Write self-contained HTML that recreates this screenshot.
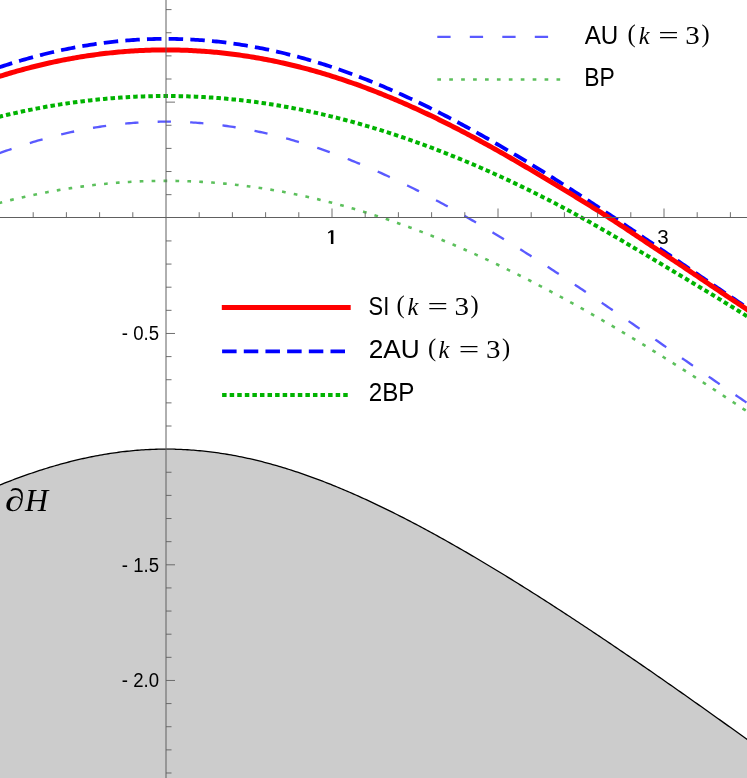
<!DOCTYPE html>
<html><head><meta charset="utf-8"><title>plot</title><style>html,body{margin:0;padding:0;background:#fff;}svg{display:block;will-change:transform;}text{font-family:"Liberation Sans",sans-serif;fill:#000;}.m{font-family:"Liberation Serif",serif;}.mi{font-family:"Liberation Serif",serif;font-style:italic;}</style></head><body>
<svg width="747" height="778" viewBox="0 0 747 778">
<rect width="747" height="778" fill="#fff"/>
<path d="M-49.80 507.04 L-47.72 506.04 L-45.64 505.04 L-43.56 504.05 L-41.48 503.07 L-39.40 502.10 L-37.32 501.13 L-35.24 500.16 L-33.16 499.21 L-31.08 498.26 L-29.00 497.31 L-26.92 496.38 L-24.84 495.45 L-22.76 494.53 L-20.68 493.61 L-18.60 492.70 L-16.52 491.80 L-14.44 490.91 L-12.36 490.02 L-10.28 489.15 L-8.20 488.27 L-6.12 487.41 L-4.04 486.56 L-1.96 485.71 L0.12 484.87 L2.21 484.03 L4.29 483.21 L6.37 482.39 L8.45 481.58 L10.53 480.78 L12.61 479.99 L14.69 479.21 L16.77 478.43 L18.85 477.67 L20.93 476.91 L23.01 476.16 L25.09 475.42 L27.17 474.69 L29.25 473.96 L31.33 473.25 L33.41 472.54 L35.49 471.85 L37.57 471.16 L39.65 470.48 L41.73 469.81 L43.81 469.15 L45.89 468.50 L47.97 467.86 L50.05 467.23 L52.13 466.61 L54.21 466.00 L56.29 465.40 L58.37 464.81 L60.45 464.22 L62.53 463.65 L64.61 463.09 L66.69 462.54 L68.77 462.00 L70.85 461.47 L72.93 460.95 L75.01 460.44 L77.09 459.94 L79.17 459.45 L81.25 458.97 L83.33 458.50 L85.41 458.04 L87.49 457.60 L89.57 457.16 L91.65 456.74 L93.73 456.33 L95.81 455.92 L97.89 455.53 L99.97 455.15 L102.05 454.78 L104.13 454.42 L106.22 454.08 L108.30 453.74 L110.38 453.42 L112.46 453.11 L114.54 452.81 L116.62 452.52 L118.70 452.24 L120.78 451.97 L122.86 451.72 L124.94 451.48 L127.02 451.25 L129.10 451.03 L131.18 450.82 L133.26 450.63 L135.34 450.44 L137.42 450.27 L139.50 450.11 L141.58 449.96 L143.66 449.83 L145.74 449.70 L147.82 449.59 L149.90 449.49 L151.98 449.40 L154.06 449.33 L156.14 449.27 L158.22 449.21 L160.30 449.18 L162.38 449.15 L164.46 449.13 L166.54 449.13 L168.62 449.14 L170.70 449.16 L172.78 449.19 L174.86 449.24 L176.94 449.30 L179.02 449.37 L181.10 449.45 L183.18 449.54 L185.26 449.65 L187.34 449.77 L189.42 449.90 L191.50 450.04 L193.58 450.19 L195.66 450.36 L197.74 450.54 L199.82 450.73 L201.90 450.93 L203.98 451.14 L206.06 451.37 L208.14 451.60 L210.23 451.85 L212.31 452.11 L214.39 452.38 L216.47 452.67 L218.55 452.96 L220.63 453.27 L222.71 453.59 L224.79 453.92 L226.87 454.26 L228.95 454.61 L231.03 454.97 L233.11 455.35 L235.19 455.73 L237.27 456.13 L239.35 456.54 L241.43 456.96 L243.51 457.39 L245.59 457.83 L247.67 458.28 L249.75 458.74 L251.83 459.22 L253.91 459.70 L255.99 460.20 L258.07 460.70 L260.15 461.22 L262.23 461.74 L264.31 462.28 L266.39 462.83 L268.47 463.38 L270.55 463.95 L272.63 464.53 L274.71 465.11 L276.79 465.71 L278.87 466.32 L280.95 466.93 L283.03 467.56 L285.11 468.20 L287.19 468.84 L289.27 469.50 L291.35 470.16 L293.43 470.83 L295.51 471.52 L297.59 472.21 L299.67 472.91 L301.75 473.62 L303.83 474.34 L305.91 475.07 L307.99 475.80 L310.07 476.55 L312.15 477.30 L314.24 478.06 L316.32 478.84 L318.40 479.62 L320.48 480.40 L322.56 481.20 L324.64 482.00 L326.72 482.82 L328.80 483.64 L330.88 484.47 L332.96 485.30 L335.04 486.15 L337.12 487.00 L339.20 487.86 L341.28 488.73 L343.36 489.60 L345.44 490.48 L347.52 491.37 L349.60 492.27 L351.68 493.17 L353.76 494.09 L355.84 495.01 L357.92 495.93 L360.00 496.86 L362.08 497.80 L364.16 498.75 L366.24 499.70 L368.32 500.66 L370.40 501.63 L372.48 502.60 L374.56 503.58 L376.64 504.57 L378.72 505.56 L380.80 506.56 L382.88 507.56 L384.96 508.57 L387.04 509.59 L389.12 510.61 L391.20 511.64 L393.28 512.68 L395.36 513.72 L397.44 514.77 L399.52 515.82 L401.60 516.88 L403.68 517.94 L405.76 519.01 L407.84 520.08 L409.92 521.16 L412.00 522.25 L414.08 523.34 L416.16 524.44 L418.25 525.54 L420.33 526.64 L422.41 527.75 L424.49 528.87 L426.57 529.99 L428.65 531.12 L430.73 532.25 L432.81 533.39 L434.89 534.53 L436.97 535.67 L439.05 536.82 L441.13 537.98 L443.21 539.14 L445.29 540.30 L447.37 541.47 L449.45 542.64 L451.53 543.82 L453.61 545.00 L455.69 546.19 L457.77 547.38 L459.85 548.57 L461.93 549.77 L464.01 550.97 L466.09 552.18 L468.17 553.39 L470.25 554.60 L472.33 555.82 L474.41 557.04 L476.49 558.27 L478.57 559.50 L480.65 560.73 L482.73 561.97 L484.81 563.21 L486.89 564.46 L488.97 565.70 L491.05 566.96 L493.13 568.21 L495.21 569.47 L497.29 570.73 L499.37 572.00 L501.45 573.27 L503.53 574.54 L505.61 575.82 L507.69 577.09 L509.77 578.38 L511.85 579.66 L513.93 580.95 L516.01 582.24 L518.09 583.54 L520.17 584.84 L522.26 586.14 L524.34 587.44 L526.42 588.75 L528.50 590.06 L530.58 591.37 L532.66 592.68 L534.74 594.00 L536.82 595.32 L538.90 596.65 L540.98 597.98 L543.06 599.30 L545.14 600.64 L547.22 601.97 L549.30 603.31 L551.38 604.65 L553.46 605.99 L555.54 607.34 L557.62 608.69 L559.70 610.04 L561.78 611.39 L563.86 612.74 L565.94 614.10 L568.02 615.46 L570.10 616.82 L572.18 618.19 L574.26 619.56 L576.34 620.93 L578.42 622.30 L580.50 623.67 L582.58 625.05 L584.66 626.43 L586.74 627.81 L588.82 629.19 L590.90 630.58 L592.98 631.96 L595.06 633.35 L597.14 634.74 L599.22 636.14 L601.30 637.53 L603.38 638.93 L605.46 640.33 L607.54 641.73 L609.62 643.13 L611.70 644.54 L613.78 645.95 L615.86 647.36 L617.94 648.77 L620.02 650.18 L622.10 651.60 L624.18 653.01 L626.27 654.43 L628.35 655.85 L630.43 657.27 L632.51 658.70 L634.59 660.12 L636.67 661.55 L638.75 662.98 L640.83 664.41 L642.91 665.84 L644.99 667.28 L647.07 668.71 L649.15 670.15 L651.23 671.59 L653.31 673.03 L655.39 674.47 L657.47 675.92 L659.55 677.36 L661.63 678.81 L663.71 680.26 L665.79 681.71 L667.87 683.16 L669.95 684.61 L672.03 686.07 L674.11 687.52 L676.19 688.98 L678.27 690.44 L680.35 691.90 L682.43 693.36 L684.51 694.82 L686.59 696.29 L688.67 697.75 L690.75 699.22 L692.83 700.69 L694.91 702.16 L696.99 703.63 L699.07 705.10 L701.15 706.58 L703.23 708.05 L705.31 709.53 L707.39 711.00 L709.47 712.48 L711.55 713.96 L713.63 715.44 L715.71 716.93 L717.79 718.41 L719.87 719.90 L721.95 721.38 L724.03 722.87 L726.11 724.36 L728.19 725.85 L730.28 727.34 L732.36 728.83 L734.44 730.32 L736.52 731.82 L738.60 733.31 L740.68 734.81 L742.76 736.30 L744.84 737.80 L746.92 739.30 L749.00 740.80 L751.08 742.30 L753.16 743.81 L755.24 745.31 L757.32 746.82 L759.40 748.32 L761.48 749.83 L763.56 751.34 L765.64 752.84 L767.72 754.35 L769.80 755.86 L771.88 757.38 L773.96 758.89 L776.04 760.40 L778.12 761.92 L780.20 763.43 L780.20 900 L-49.80 900 Z" fill="#cccccc" stroke="none"/>
<path d="M-49.80 507.04 L-47.72 506.04 L-45.64 505.04 L-43.56 504.05 L-41.48 503.07 L-39.40 502.10 L-37.32 501.13 L-35.24 500.16 L-33.16 499.21 L-31.08 498.26 L-29.00 497.31 L-26.92 496.38 L-24.84 495.45 L-22.76 494.53 L-20.68 493.61 L-18.60 492.70 L-16.52 491.80 L-14.44 490.91 L-12.36 490.02 L-10.28 489.15 L-8.20 488.27 L-6.12 487.41 L-4.04 486.56 L-1.96 485.71 L0.12 484.87 L2.21 484.03 L4.29 483.21 L6.37 482.39 L8.45 481.58 L10.53 480.78 L12.61 479.99 L14.69 479.21 L16.77 478.43 L18.85 477.67 L20.93 476.91 L23.01 476.16 L25.09 475.42 L27.17 474.69 L29.25 473.96 L31.33 473.25 L33.41 472.54 L35.49 471.85 L37.57 471.16 L39.65 470.48 L41.73 469.81 L43.81 469.15 L45.89 468.50 L47.97 467.86 L50.05 467.23 L52.13 466.61 L54.21 466.00 L56.29 465.40 L58.37 464.81 L60.45 464.22 L62.53 463.65 L64.61 463.09 L66.69 462.54 L68.77 462.00 L70.85 461.47 L72.93 460.95 L75.01 460.44 L77.09 459.94 L79.17 459.45 L81.25 458.97 L83.33 458.50 L85.41 458.04 L87.49 457.60 L89.57 457.16 L91.65 456.74 L93.73 456.33 L95.81 455.92 L97.89 455.53 L99.97 455.15 L102.05 454.78 L104.13 454.42 L106.22 454.08 L108.30 453.74 L110.38 453.42 L112.46 453.11 L114.54 452.81 L116.62 452.52 L118.70 452.24 L120.78 451.97 L122.86 451.72 L124.94 451.48 L127.02 451.25 L129.10 451.03 L131.18 450.82 L133.26 450.63 L135.34 450.44 L137.42 450.27 L139.50 450.11 L141.58 449.96 L143.66 449.83 L145.74 449.70 L147.82 449.59 L149.90 449.49 L151.98 449.40 L154.06 449.33 L156.14 449.27 L158.22 449.21 L160.30 449.18 L162.38 449.15 L164.46 449.13 L166.54 449.13 L168.62 449.14 L170.70 449.16 L172.78 449.19 L174.86 449.24 L176.94 449.30 L179.02 449.37 L181.10 449.45 L183.18 449.54 L185.26 449.65 L187.34 449.77 L189.42 449.90 L191.50 450.04 L193.58 450.19 L195.66 450.36 L197.74 450.54 L199.82 450.73 L201.90 450.93 L203.98 451.14 L206.06 451.37 L208.14 451.60 L210.23 451.85 L212.31 452.11 L214.39 452.38 L216.47 452.67 L218.55 452.96 L220.63 453.27 L222.71 453.59 L224.79 453.92 L226.87 454.26 L228.95 454.61 L231.03 454.97 L233.11 455.35 L235.19 455.73 L237.27 456.13 L239.35 456.54 L241.43 456.96 L243.51 457.39 L245.59 457.83 L247.67 458.28 L249.75 458.74 L251.83 459.22 L253.91 459.70 L255.99 460.20 L258.07 460.70 L260.15 461.22 L262.23 461.74 L264.31 462.28 L266.39 462.83 L268.47 463.38 L270.55 463.95 L272.63 464.53 L274.71 465.11 L276.79 465.71 L278.87 466.32 L280.95 466.93 L283.03 467.56 L285.11 468.20 L287.19 468.84 L289.27 469.50 L291.35 470.16 L293.43 470.83 L295.51 471.52 L297.59 472.21 L299.67 472.91 L301.75 473.62 L303.83 474.34 L305.91 475.07 L307.99 475.80 L310.07 476.55 L312.15 477.30 L314.24 478.06 L316.32 478.84 L318.40 479.62 L320.48 480.40 L322.56 481.20 L324.64 482.00 L326.72 482.82 L328.80 483.64 L330.88 484.47 L332.96 485.30 L335.04 486.15 L337.12 487.00 L339.20 487.86 L341.28 488.73 L343.36 489.60 L345.44 490.48 L347.52 491.37 L349.60 492.27 L351.68 493.17 L353.76 494.09 L355.84 495.01 L357.92 495.93 L360.00 496.86 L362.08 497.80 L364.16 498.75 L366.24 499.70 L368.32 500.66 L370.40 501.63 L372.48 502.60 L374.56 503.58 L376.64 504.57 L378.72 505.56 L380.80 506.56 L382.88 507.56 L384.96 508.57 L387.04 509.59 L389.12 510.61 L391.20 511.64 L393.28 512.68 L395.36 513.72 L397.44 514.77 L399.52 515.82 L401.60 516.88 L403.68 517.94 L405.76 519.01 L407.84 520.08 L409.92 521.16 L412.00 522.25 L414.08 523.34 L416.16 524.44 L418.25 525.54 L420.33 526.64 L422.41 527.75 L424.49 528.87 L426.57 529.99 L428.65 531.12 L430.73 532.25 L432.81 533.39 L434.89 534.53 L436.97 535.67 L439.05 536.82 L441.13 537.98 L443.21 539.14 L445.29 540.30 L447.37 541.47 L449.45 542.64 L451.53 543.82 L453.61 545.00 L455.69 546.19 L457.77 547.38 L459.85 548.57 L461.93 549.77 L464.01 550.97 L466.09 552.18 L468.17 553.39 L470.25 554.60 L472.33 555.82 L474.41 557.04 L476.49 558.27 L478.57 559.50 L480.65 560.73 L482.73 561.97 L484.81 563.21 L486.89 564.46 L488.97 565.70 L491.05 566.96 L493.13 568.21 L495.21 569.47 L497.29 570.73 L499.37 572.00 L501.45 573.27 L503.53 574.54 L505.61 575.82 L507.69 577.09 L509.77 578.38 L511.85 579.66 L513.93 580.95 L516.01 582.24 L518.09 583.54 L520.17 584.84 L522.26 586.14 L524.34 587.44 L526.42 588.75 L528.50 590.06 L530.58 591.37 L532.66 592.68 L534.74 594.00 L536.82 595.32 L538.90 596.65 L540.98 597.98 L543.06 599.30 L545.14 600.64 L547.22 601.97 L549.30 603.31 L551.38 604.65 L553.46 605.99 L555.54 607.34 L557.62 608.69 L559.70 610.04 L561.78 611.39 L563.86 612.74 L565.94 614.10 L568.02 615.46 L570.10 616.82 L572.18 618.19 L574.26 619.56 L576.34 620.93 L578.42 622.30 L580.50 623.67 L582.58 625.05 L584.66 626.43 L586.74 627.81 L588.82 629.19 L590.90 630.58 L592.98 631.96 L595.06 633.35 L597.14 634.74 L599.22 636.14 L601.30 637.53 L603.38 638.93 L605.46 640.33 L607.54 641.73 L609.62 643.13 L611.70 644.54 L613.78 645.95 L615.86 647.36 L617.94 648.77 L620.02 650.18 L622.10 651.60 L624.18 653.01 L626.27 654.43 L628.35 655.85 L630.43 657.27 L632.51 658.70 L634.59 660.12 L636.67 661.55 L638.75 662.98 L640.83 664.41 L642.91 665.84 L644.99 667.28 L647.07 668.71 L649.15 670.15 L651.23 671.59 L653.31 673.03 L655.39 674.47 L657.47 675.92 L659.55 677.36 L661.63 678.81 L663.71 680.26 L665.79 681.71 L667.87 683.16 L669.95 684.61 L672.03 686.07 L674.11 687.52 L676.19 688.98 L678.27 690.44 L680.35 691.90 L682.43 693.36 L684.51 694.82 L686.59 696.29 L688.67 697.75 L690.75 699.22 L692.83 700.69 L694.91 702.16 L696.99 703.63 L699.07 705.10 L701.15 706.58 L703.23 708.05 L705.31 709.53 L707.39 711.00 L709.47 712.48 L711.55 713.96 L713.63 715.44 L715.71 716.93 L717.79 718.41 L719.87 719.90 L721.95 721.38 L724.03 722.87 L726.11 724.36 L728.19 725.85 L730.28 727.34 L732.36 728.83 L734.44 730.32 L736.52 731.82 L738.60 733.31 L740.68 734.81 L742.76 736.30 L744.84 737.80 L746.92 739.30 L749.00 740.80 L751.08 742.30 L753.16 743.81 L755.24 745.31 L757.32 746.82 L759.40 748.32 L761.48 749.83 L763.56 751.34 L765.64 752.84 L767.72 754.35 L769.80 755.86 L771.88 757.38 L773.96 758.89 L776.04 760.40 L778.12 761.92 L780.20 763.43" fill="none" stroke="#000" stroke-width="1.30"/>
<path d="M-49.80 173.39 L-47.72 172.46 L-45.64 171.53 L-43.56 170.60 L-41.48 169.69 L-39.40 168.78 L-37.32 167.88 L-35.24 166.99 L-33.16 166.10 L-31.08 165.22 L-29.00 164.35 L-26.92 163.49 L-24.84 162.63 L-22.76 161.78 L-20.68 160.94 L-18.60 160.11 L-16.52 159.28 L-14.44 158.46 L-12.36 157.65 L-10.28 156.85 L-8.20 156.06 L-6.12 155.27 L-4.04 154.50 L-1.96 153.73 L0.12 152.96 L2.21 152.21 L4.29 151.47 L6.37 150.73 L8.45 150.00 L10.53 149.28 L12.61 148.57 L14.69 147.87 L16.77 147.17 L18.85 146.49 L20.93 145.81 L23.01 145.14 L25.09 144.48 L27.17 143.83 L29.25 143.18 L31.33 142.55 L33.41 141.92 L35.49 141.31 L37.57 140.70 L39.65 140.10 L41.73 139.51 L43.81 138.93 L45.89 138.36 L47.97 137.80 L50.05 137.24 L52.13 136.70 L54.21 136.16 L56.29 135.64 L58.37 135.12 L60.45 134.61 L62.53 134.11 L64.61 133.63 L66.69 133.15 L68.77 132.68 L70.85 132.22 L72.93 131.76 L75.01 131.32 L77.09 130.89 L79.17 130.47 L81.25 130.06 L83.33 129.65 L85.41 129.26 L87.49 128.87 L89.57 128.50 L91.65 128.13 L93.73 127.78 L95.81 127.44 L97.89 127.10 L99.97 126.77 L102.05 126.46 L104.13 126.15 L106.22 125.86 L108.30 125.57 L110.38 125.30 L112.46 125.03 L114.54 124.77 L116.62 124.53 L118.70 124.29 L120.78 124.07 L122.86 123.85 L124.94 123.64 L127.02 123.45 L129.10 123.26 L131.18 123.09 L133.26 122.92 L135.34 122.77 L137.42 122.62 L139.50 122.49 L141.58 122.36 L143.66 122.25 L145.74 122.14 L147.82 122.05 L149.90 121.96 L151.98 121.89 L154.06 121.82 L156.14 121.77 L158.22 121.73 L160.30 121.69 L162.38 121.67 L164.46 121.66 L166.54 121.66 L168.62 121.66 L170.70 121.68 L172.78 121.71 L174.86 121.75 L176.94 121.80 L179.02 121.86 L181.10 121.93 L183.18 122.00 L185.26 122.09 L187.34 122.19 L189.42 122.30 L191.50 122.42 L193.58 122.55 L195.66 122.69 L197.74 122.84 L199.82 123.01 L201.90 123.18 L203.98 123.36 L206.06 123.55 L208.14 123.75 L210.23 123.96 L212.31 124.18 L214.39 124.41 L216.47 124.65 L218.55 124.91 L220.63 125.17 L222.71 125.44 L224.79 125.72 L226.87 126.01 L228.95 126.31 L231.03 126.62 L233.11 126.94 L235.19 127.27 L237.27 127.61 L239.35 127.96 L241.43 128.32 L243.51 128.69 L245.59 129.07 L247.67 129.46 L249.75 129.86 L251.83 130.27 L253.91 130.69 L255.99 131.11 L258.07 131.55 L260.15 132.00 L262.23 132.45 L264.31 132.92 L266.39 133.39 L268.47 133.88 L270.55 134.37 L272.63 134.88 L274.71 135.39 L276.79 135.91 L278.87 136.44 L280.95 136.98 L283.03 137.53 L285.11 138.09 L287.19 138.66 L289.27 139.23 L291.35 139.82 L293.43 140.41 L295.51 141.01 L297.59 141.63 L299.67 142.25 L301.75 142.88 L303.83 143.52 L305.91 144.16 L307.99 144.82 L310.07 145.49 L312.15 146.16 L314.24 146.84 L316.32 147.53 L318.40 148.23 L320.48 148.94 L322.56 149.65 L324.64 150.38 L326.72 151.11 L328.80 151.85 L330.88 152.60 L332.96 153.36 L335.04 154.13 L337.12 154.90 L339.20 155.68 L341.28 156.47 L343.36 157.27 L345.44 158.07 L347.52 158.89 L349.60 159.71 L351.68 160.54 L353.76 161.38 L355.84 162.22 L357.92 163.07 L360.00 163.93 L362.08 164.80 L364.16 165.68 L366.24 166.56 L368.32 167.45 L370.40 168.35 L372.48 169.25 L374.56 170.16 L376.64 171.08 L378.72 172.01 L380.80 172.94 L382.88 173.88 L384.96 174.83 L387.04 175.79 L389.12 176.75 L391.20 177.72 L393.28 178.69 L395.36 179.68 L397.44 180.67 L399.52 181.66 L401.60 182.67 L403.68 183.68 L405.76 184.69 L407.84 185.71 L409.92 186.74 L412.00 187.78 L414.08 188.82 L416.16 189.87 L418.25 190.92 L420.33 191.98 L422.41 193.05 L424.49 194.12 L426.57 195.20 L428.65 196.29 L430.73 197.38 L432.81 198.48 L434.89 199.58 L436.97 200.69 L439.05 201.80 L441.13 202.92 L443.21 204.05 L445.29 205.18 L447.37 206.32 L449.45 207.46 L451.53 208.61 L453.61 209.76 L455.69 210.92 L457.77 212.09 L459.85 213.26 L461.93 214.43 L464.01 215.61 L466.09 216.80 L468.17 217.99 L470.25 219.19 L472.33 220.39 L474.41 221.59 L476.49 222.80 L478.57 224.02 L480.65 225.24 L482.73 226.46 L484.81 227.69 L486.89 228.93 L488.97 230.16 L491.05 231.41 L493.13 232.66 L495.21 233.91 L497.29 235.17 L499.37 236.43 L501.45 237.69 L503.53 238.96 L505.61 240.23 L507.69 241.51 L509.77 242.79 L511.85 244.08 L513.93 245.37 L516.01 246.66 L518.09 247.96 L520.17 249.26 L522.26 250.57 L524.34 251.88 L526.42 253.19 L528.50 254.51 L530.58 255.83 L532.66 257.15 L534.74 258.48 L536.82 259.81 L538.90 261.14 L540.98 262.48 L543.06 263.82 L545.14 265.16 L547.22 266.51 L549.30 267.86 L551.38 269.21 L553.46 270.57 L555.54 271.93 L557.62 273.29 L559.70 274.65 L561.78 276.02 L563.86 277.39 L565.94 278.76 L568.02 280.14 L570.10 281.52 L572.18 282.90 L574.26 284.28 L576.34 285.67 L578.42 287.06 L580.50 288.45 L582.58 289.84 L584.66 291.24 L586.74 292.63 L588.82 294.03 L590.90 295.43 L592.98 296.84 L595.06 298.24 L597.14 299.65 L599.22 301.06 L601.30 302.47 L603.38 303.89 L605.46 305.30 L607.54 306.72 L609.62 308.13 L611.70 309.55 L613.78 310.98 L615.86 312.40 L617.94 313.82 L620.02 315.25 L622.10 316.68 L624.18 318.10 L626.27 319.53 L628.35 320.96 L630.43 322.40 L632.51 323.83 L634.59 325.26 L636.67 326.70 L638.75 328.13 L640.83 329.57 L642.91 331.01 L644.99 332.45 L647.07 333.89 L649.15 335.33 L651.23 336.77 L653.31 338.21 L655.39 339.65 L657.47 341.09 L659.55 342.53 L661.63 343.97 L663.71 345.42 L665.79 346.86 L667.87 348.30 L669.95 349.75 L672.03 351.19 L674.11 352.64 L676.19 354.08 L678.27 355.52 L680.35 356.97 L682.43 358.41 L684.51 359.85 L686.59 361.30 L688.67 362.74 L690.75 364.18 L692.83 365.63 L694.91 367.07 L696.99 368.51 L699.07 369.95 L701.15 371.39 L703.23 372.83 L705.31 374.27 L707.39 375.71 L709.47 377.14 L711.55 378.58 L713.63 380.01 L715.71 381.45 L717.79 382.88 L719.87 384.31 L721.95 385.75 L724.03 387.18 L726.11 388.60 L728.19 390.03 L730.28 391.46 L732.36 392.88 L734.44 394.31 L736.52 395.73 L738.60 397.15 L740.68 398.57 L742.76 399.99 L744.84 401.40 L746.92 402.82 L749.00 404.23 L751.08 405.64 L753.16 407.05 L755.24 408.45 L757.32 409.86 L759.40 411.26 L761.48 412.66 L763.56 414.06 L765.64 415.46 L767.72 416.85 L769.80 418.24 L771.88 419.63 L773.96 421.02 L776.04 422.40 L778.12 423.79 L780.20 425.17" fill="none" stroke="#5a5aff" stroke-width="2.35" stroke-dasharray="13.3 19.2" stroke-dashoffset="12.22"/>
<path d="M-49.80 217.56 L-47.72 216.87 L-45.64 216.19 L-43.56 215.52 L-41.48 214.85 L-39.40 214.19 L-37.32 213.53 L-35.24 212.88 L-33.16 212.23 L-31.08 211.59 L-29.00 210.96 L-26.92 210.34 L-24.84 209.71 L-22.76 209.10 L-20.68 208.49 L-18.60 207.89 L-16.52 207.30 L-14.44 206.71 L-12.36 206.12 L-10.28 205.55 L-8.20 204.98 L-6.12 204.41 L-4.04 203.86 L-1.96 203.30 L0.12 202.76 L2.21 202.22 L4.29 201.69 L6.37 201.16 L8.45 200.64 L10.53 200.13 L12.61 199.63 L14.69 199.13 L16.77 198.63 L18.85 198.15 L20.93 197.66 L23.01 197.19 L25.09 196.72 L27.17 196.26 L29.25 195.81 L31.33 195.36 L33.41 194.92 L35.49 194.49 L37.57 194.06 L39.65 193.64 L41.73 193.22 L43.81 192.81 L45.89 192.41 L47.97 192.02 L50.05 191.63 L52.13 191.25 L54.21 190.87 L56.29 190.51 L58.37 190.15 L60.45 189.79 L62.53 189.44 L64.61 189.10 L66.69 188.77 L68.77 188.44 L70.85 188.12 L72.93 187.81 L75.01 187.50 L77.09 187.20 L79.17 186.91 L81.25 186.62 L83.33 186.34 L85.41 186.07 L87.49 185.80 L89.57 185.54 L91.65 185.29 L93.73 185.05 L95.81 184.81 L97.89 184.58 L99.97 184.35 L102.05 184.13 L104.13 183.92 L106.22 183.72 L108.30 183.52 L110.38 183.33 L112.46 183.15 L114.54 182.97 L116.62 182.80 L118.70 182.64 L120.78 182.49 L122.86 182.34 L124.94 182.20 L127.02 182.06 L129.10 181.93 L131.18 181.81 L133.26 181.70 L135.34 181.59 L137.42 181.49 L139.50 181.40 L141.58 181.31 L143.66 181.24 L145.74 181.16 L147.82 181.10 L149.90 181.04 L151.98 180.99 L154.06 180.95 L156.14 180.91 L158.22 180.88 L160.30 180.86 L162.38 180.84 L164.46 180.83 L166.54 180.83 L168.62 180.84 L170.70 180.85 L172.78 180.87 L174.86 180.90 L176.94 180.93 L179.02 180.97 L181.10 181.02 L183.18 181.07 L185.26 181.13 L187.34 181.20 L189.42 181.28 L191.50 181.36 L193.58 181.45 L195.66 181.54 L197.74 181.65 L199.82 181.76 L201.90 181.87 L203.98 182.00 L206.06 182.13 L208.14 182.27 L210.23 182.41 L212.31 182.57 L214.39 182.72 L216.47 182.89 L218.55 183.06 L220.63 183.24 L222.71 183.43 L224.79 183.62 L226.87 183.82 L228.95 184.03 L231.03 184.25 L233.11 184.47 L235.19 184.70 L237.27 184.93 L239.35 185.17 L241.43 185.42 L243.51 185.68 L245.59 185.94 L247.67 186.21 L249.75 186.49 L251.83 186.77 L253.91 187.06 L255.99 187.36 L258.07 187.66 L260.15 187.97 L262.23 188.29 L264.31 188.61 L266.39 188.94 L268.47 189.28 L270.55 189.62 L272.63 189.97 L274.71 190.33 L276.79 190.70 L278.87 191.07 L280.95 191.45 L283.03 191.83 L285.11 192.22 L287.19 192.62 L289.27 193.03 L291.35 193.44 L293.43 193.85 L295.51 194.28 L297.59 194.71 L299.67 195.15 L301.75 195.59 L303.83 196.04 L305.91 196.50 L307.99 196.97 L310.07 197.44 L312.15 197.91 L314.24 198.40 L316.32 198.89 L318.40 199.38 L320.48 199.89 L322.56 200.40 L324.64 200.91 L326.72 201.44 L328.80 201.97 L330.88 202.50 L332.96 203.04 L335.04 203.59 L337.12 204.15 L339.20 204.71 L341.28 205.27 L343.36 205.85 L345.44 206.43 L347.52 207.01 L349.60 207.60 L351.68 208.20 L353.76 208.81 L355.84 209.42 L357.92 210.04 L360.00 210.66 L362.08 211.29 L364.16 211.93 L366.24 212.57 L368.32 213.22 L370.40 213.87 L372.48 214.53 L374.56 215.20 L376.64 215.87 L378.72 216.55 L380.80 217.23 L382.88 217.92 L384.96 218.62 L387.04 219.32 L389.12 220.03 L391.20 220.74 L393.28 221.46 L395.36 222.19 L397.44 222.92 L399.52 223.66 L401.60 224.40 L403.68 225.15 L405.76 225.90 L407.84 226.67 L409.92 227.43 L412.00 228.20 L414.08 228.98 L416.16 229.77 L418.25 230.55 L420.33 231.35 L422.41 232.15 L424.49 232.96 L426.57 233.77 L428.65 234.59 L430.73 235.41 L432.81 236.24 L434.89 237.07 L436.97 237.91 L439.05 238.75 L441.13 239.60 L443.21 240.46 L445.29 241.32 L447.37 242.19 L449.45 243.06 L451.53 243.94 L453.61 244.82 L455.69 245.71 L457.77 246.60 L459.85 247.50 L461.93 248.40 L464.01 249.31 L466.09 250.22 L468.17 251.14 L470.25 252.07 L472.33 253.00 L474.41 253.93 L476.49 254.87 L478.57 255.82 L480.65 256.77 L482.73 257.72 L484.81 258.68 L486.89 259.64 L488.97 260.61 L491.05 261.59 L493.13 262.57 L495.21 263.55 L497.29 264.54 L499.37 265.53 L501.45 266.53 L503.53 267.54 L505.61 268.54 L507.69 269.56 L509.77 270.58 L511.85 271.60 L513.93 272.62 L516.01 273.66 L518.09 274.69 L520.17 275.73 L522.26 276.78 L524.34 277.83 L526.42 278.88 L528.50 279.94 L530.58 281.01 L532.66 282.07 L534.74 283.15 L536.82 284.22 L538.90 285.30 L540.98 286.39 L543.06 287.48 L545.14 288.57 L547.22 289.67 L549.30 290.77 L551.38 291.88 L553.46 292.99 L555.54 294.11 L557.62 295.23 L559.70 296.35 L561.78 297.48 L563.86 298.61 L565.94 299.75 L568.02 300.89 L570.10 302.03 L572.18 303.18 L574.26 304.33 L576.34 305.49 L578.42 306.65 L580.50 307.81 L582.58 308.98 L584.66 310.15 L586.74 311.32 L588.82 312.50 L590.90 313.69 L592.98 314.87 L595.06 316.06 L597.14 317.26 L599.22 318.45 L601.30 319.66 L603.38 320.86 L605.46 322.07 L607.54 323.28 L609.62 324.50 L611.70 325.72 L613.78 326.94 L615.86 328.17 L617.94 329.40 L620.02 330.63 L622.10 331.87 L624.18 333.11 L626.27 334.35 L628.35 335.60 L630.43 336.85 L632.51 338.10 L634.59 339.36 L636.67 340.61 L638.75 341.88 L640.83 343.14 L642.91 344.41 L644.99 345.69 L647.07 346.96 L649.15 348.24 L651.23 349.52 L653.31 350.81 L655.39 352.09 L657.47 353.38 L659.55 354.68 L661.63 355.97 L663.71 357.27 L665.79 358.58 L667.87 359.88 L669.95 361.19 L672.03 362.50 L674.11 363.81 L676.19 365.13 L678.27 366.45 L680.35 367.77 L682.43 369.09 L684.51 370.42 L686.59 371.75 L688.67 373.08 L690.75 374.42 L692.83 375.76 L694.91 377.09 L696.99 378.44 L699.07 379.78 L701.15 381.13 L703.23 382.48 L705.31 383.83 L707.39 385.19 L709.47 386.54 L711.55 387.90 L713.63 389.26 L715.71 390.63 L717.79 391.99 L719.87 393.36 L721.95 394.73 L724.03 396.10 L726.11 397.48 L728.19 398.85 L730.28 400.23 L732.36 401.61 L734.44 403.00 L736.52 404.38 L738.60 405.77 L740.68 407.16 L742.76 408.55 L744.84 409.94 L746.92 411.33 L749.00 412.73 L751.08 414.13 L753.16 415.53 L755.24 416.93 L757.32 418.33 L759.40 419.74 L761.48 421.15 L763.56 422.55 L765.64 423.96 L767.72 425.38 L769.80 426.79 L771.88 428.20 L773.96 429.62 L776.04 431.04 L778.12 432.46 L780.20 433.88" fill="none" stroke="#5cc05c" stroke-width="2.60" stroke-dasharray="3.7 8.22" stroke-dashoffset="9.09"/>
<path d="M-49.80 85.90 L-47.72 85.03 L-45.64 84.16 L-43.56 83.31 L-41.48 82.46 L-39.40 81.62 L-37.32 80.78 L-35.24 79.95 L-33.16 79.13 L-31.08 78.32 L-29.00 77.51 L-26.92 76.71 L-24.84 75.92 L-22.76 75.14 L-20.68 74.37 L-18.60 73.60 L-16.52 72.84 L-14.44 72.09 L-12.36 71.34 L-10.28 70.60 L-8.20 69.88 L-6.12 69.15 L-4.04 68.44 L-1.96 67.74 L0.12 67.04 L2.21 66.35 L4.29 65.67 L6.37 64.99 L8.45 64.33 L10.53 63.67 L12.61 63.02 L14.69 62.38 L16.77 61.75 L18.85 61.12 L20.93 60.51 L23.01 59.90 L25.09 59.30 L27.17 58.71 L29.25 58.12 L31.33 57.55 L33.41 56.98 L35.49 56.42 L37.57 55.88 L39.65 55.33 L41.73 54.80 L43.81 54.28 L45.89 53.76 L47.97 53.25 L50.05 52.75 L52.13 52.26 L54.21 51.78 L56.29 51.31 L58.37 50.85 L60.45 50.39 L62.53 49.94 L64.61 49.50 L66.69 49.07 L68.77 48.65 L70.85 48.24 L72.93 47.84 L75.01 47.44 L77.09 47.06 L79.17 46.68 L81.25 46.31 L83.33 45.95 L85.41 45.60 L87.49 45.26 L89.57 44.92 L91.65 44.60 L93.73 44.28 L95.81 43.98 L97.89 43.68 L99.97 43.39 L102.05 43.11 L104.13 42.84 L106.22 42.58 L108.30 42.32 L110.38 42.08 L112.46 41.84 L114.54 41.62 L116.62 41.40 L118.70 41.19 L120.78 40.99 L122.86 40.80 L124.94 40.62 L127.02 40.44 L129.10 40.28 L131.18 40.12 L133.26 39.98 L135.34 39.84 L137.42 39.71 L139.50 39.59 L141.58 39.48 L143.66 39.38 L145.74 39.29 L147.82 39.21 L149.90 39.13 L151.98 39.07 L154.06 39.01 L156.14 38.96 L158.22 38.93 L160.30 38.90 L162.38 38.88 L164.46 38.87 L166.54 38.86 L168.62 38.87 L170.70 38.89 L172.78 38.91 L174.86 38.95 L176.94 38.99 L179.02 39.04 L181.10 39.10 L183.18 39.17 L185.26 39.25 L187.34 39.34 L189.42 39.43 L191.50 39.54 L193.58 39.66 L195.66 39.78 L197.74 39.91 L199.82 40.05 L201.90 40.20 L203.98 40.36 L206.06 40.53 L208.14 40.71 L210.23 40.90 L212.31 41.09 L214.39 41.30 L216.47 41.51 L218.55 41.73 L220.63 41.96 L222.71 42.20 L224.79 42.45 L226.87 42.71 L228.95 42.98 L231.03 43.26 L233.11 43.54 L235.19 43.83 L237.27 44.14 L239.35 44.45 L241.43 44.77 L243.51 45.10 L245.59 45.43 L247.67 45.78 L249.75 46.14 L251.83 46.50 L253.91 46.87 L255.99 47.26 L258.07 47.65 L260.15 48.05 L262.23 48.45 L264.31 48.87 L266.39 49.30 L268.47 49.73 L270.55 50.17 L272.63 50.63 L274.71 51.09 L276.79 51.56 L278.87 52.03 L280.95 52.52 L283.03 53.01 L285.11 53.52 L287.19 54.03 L289.27 54.55 L291.35 55.08 L293.43 55.61 L295.51 56.16 L297.59 56.71 L299.67 57.28 L301.75 57.85 L303.83 58.43 L305.91 59.01 L307.99 59.61 L310.07 60.21 L312.15 60.83 L314.24 61.45 L316.32 62.08 L318.40 62.71 L320.48 63.36 L322.56 64.01 L324.64 64.67 L326.72 65.34 L328.80 66.02 L330.88 66.71 L332.96 67.40 L335.04 68.10 L337.12 68.81 L339.20 69.53 L341.28 70.25 L343.36 70.99 L345.44 71.73 L347.52 72.48 L349.60 73.23 L351.68 74.00 L353.76 74.77 L355.84 75.55 L357.92 76.33 L360.00 77.13 L362.08 77.93 L364.16 78.74 L366.24 79.56 L368.32 80.38 L370.40 81.21 L372.48 82.05 L374.56 82.90 L376.64 83.75 L378.72 84.61 L380.80 85.48 L382.88 86.36 L384.96 87.24 L387.04 88.13 L389.12 89.02 L391.20 89.93 L393.28 90.84 L395.36 91.76 L397.44 92.68 L399.52 93.61 L401.60 94.55 L403.68 95.49 L405.76 96.44 L407.84 97.40 L409.92 98.37 L412.00 99.34 L414.08 100.31 L416.16 101.30 L418.25 102.29 L420.33 103.28 L422.41 104.29 L424.49 105.30 L426.57 106.31 L428.65 107.33 L430.73 108.36 L432.81 109.40 L434.89 110.44 L436.97 111.48 L439.05 112.53 L441.13 113.59 L443.21 114.66 L445.29 115.73 L447.37 116.80 L449.45 117.88 L451.53 118.97 L453.61 120.06 L455.69 121.16 L457.77 122.26 L459.85 123.37 L461.93 124.49 L464.01 125.61 L466.09 126.73 L468.17 127.86 L470.25 129.00 L472.33 130.14 L474.41 131.29 L476.49 132.44 L478.57 133.60 L480.65 134.76 L482.73 135.93 L484.81 137.10 L486.89 138.27 L488.97 139.46 L491.05 140.64 L493.13 141.83 L495.21 143.03 L497.29 144.23 L499.37 145.43 L501.45 146.64 L503.53 147.86 L505.61 149.08 L507.69 150.30 L509.77 151.53 L511.85 152.76 L513.93 153.99 L516.01 155.23 L518.09 156.48 L520.17 157.73 L522.26 158.98 L524.34 160.24 L526.42 161.50 L528.50 162.76 L530.58 164.03 L532.66 165.30 L534.74 166.58 L536.82 167.86 L538.90 169.14 L540.98 170.43 L543.06 171.72 L545.14 173.02 L547.22 174.32 L549.30 175.62 L551.38 176.92 L553.46 178.23 L555.54 179.54 L557.62 180.86 L559.70 182.18 L561.78 183.50 L563.86 184.83 L565.94 186.15 L568.02 187.48 L570.10 188.82 L572.18 190.16 L574.26 191.50 L576.34 192.84 L578.42 194.18 L580.50 195.53 L582.58 196.88 L584.66 198.24 L586.74 199.60 L588.82 200.95 L590.90 202.32 L592.98 203.68 L595.06 205.05 L597.14 206.42 L599.22 207.79 L601.30 209.16 L603.38 210.54 L605.46 211.92 L607.54 213.30 L609.62 214.68 L611.70 216.06 L613.78 217.45 L615.86 218.84 L617.94 220.23 L620.02 221.62 L622.10 223.02 L624.18 224.41 L626.27 225.81 L628.35 227.21 L630.43 228.61 L632.51 230.01 L634.59 231.41 L636.67 232.82 L638.75 234.22 L640.83 235.63 L642.91 237.04 L644.99 238.45 L647.07 239.86 L649.15 241.27 L651.23 242.69 L653.31 244.10 L655.39 245.52 L657.47 246.93 L659.55 248.35 L661.63 249.77 L663.71 251.18 L665.79 252.60 L667.87 254.02 L669.95 255.44 L672.03 256.86 L674.11 258.28 L676.19 259.70 L678.27 261.12 L680.35 262.54 L682.43 263.96 L684.51 265.38 L686.59 266.80 L688.67 268.22 L690.75 269.64 L692.83 271.06 L694.91 272.47 L696.99 273.89 L699.07 275.31 L701.15 276.72 L703.23 278.14 L705.31 279.55 L707.39 280.97 L709.47 282.38 L711.55 283.79 L713.63 285.20 L715.71 286.61 L717.79 288.01 L719.87 289.42 L721.95 290.82 L724.03 292.22 L726.11 293.62 L728.19 295.02 L730.28 296.41 L732.36 297.80 L734.44 299.19 L736.52 300.58 L738.60 301.96 L740.68 303.35 L742.76 304.72 L744.84 306.10 L746.92 307.47 L749.00 308.84 L751.08 310.21 L753.16 311.57 L755.24 312.93 L757.32 314.28 L759.40 315.63 L761.48 316.98 L763.56 318.32 L765.64 319.65 L767.72 320.99 L769.80 322.31 L771.88 323.64 L773.96 324.95 L776.04 326.26 L778.12 327.57 L780.20 328.87" fill="none" stroke="#0000ff" stroke-width="3.80" stroke-dasharray="14.5 7.18" stroke-dashoffset="13.46"/>
<path d="M-49.80 130.53 L-47.72 129.88 L-45.64 129.23 L-43.56 128.60 L-41.48 127.96 L-39.40 127.34 L-37.32 126.72 L-35.24 126.10 L-33.16 125.49 L-31.08 124.89 L-29.00 124.29 L-26.92 123.70 L-24.84 123.12 L-22.76 122.54 L-20.68 121.97 L-18.60 121.40 L-16.52 120.84 L-14.44 120.28 L-12.36 119.73 L-10.28 119.19 L-8.20 118.65 L-6.12 118.12 L-4.04 117.60 L-1.96 117.08 L0.12 116.56 L2.21 116.06 L4.29 115.56 L6.37 115.06 L8.45 114.57 L10.53 114.09 L12.61 113.62 L14.69 113.15 L16.77 112.68 L18.85 112.22 L20.93 111.77 L23.01 111.33 L25.09 110.89 L27.17 110.46 L29.25 110.03 L31.33 109.61 L33.41 109.19 L35.49 108.79 L37.57 108.39 L39.65 107.99 L41.73 107.60 L43.81 107.22 L45.89 106.84 L47.97 106.47 L50.05 106.11 L52.13 105.75 L54.21 105.40 L56.29 105.05 L58.37 104.72 L60.45 104.38 L62.53 104.06 L64.61 103.74 L66.69 103.43 L68.77 103.12 L70.85 102.82 L72.93 102.53 L75.01 102.24 L77.09 101.96 L79.17 101.68 L81.25 101.42 L83.33 101.15 L85.41 100.90 L87.49 100.65 L89.57 100.41 L91.65 100.17 L93.73 99.94 L95.81 99.72 L97.89 99.50 L99.97 99.29 L102.05 99.09 L104.13 98.89 L106.22 98.70 L108.30 98.52 L110.38 98.34 L112.46 98.17 L114.54 98.00 L116.62 97.85 L118.70 97.69 L120.78 97.55 L122.86 97.41 L124.94 97.28 L127.02 97.15 L129.10 97.03 L131.18 96.92 L133.26 96.82 L135.34 96.72 L137.42 96.62 L139.50 96.54 L141.58 96.46 L143.66 96.38 L145.74 96.32 L147.82 96.26 L149.90 96.20 L151.98 96.15 L154.06 96.11 L156.14 96.08 L158.22 96.05 L160.30 96.03 L162.38 96.02 L164.46 96.01 L166.54 96.01 L168.62 96.01 L170.70 96.02 L172.78 96.04 L174.86 96.07 L176.94 96.10 L179.02 96.13 L181.10 96.18 L183.18 96.23 L185.26 96.29 L187.34 96.35 L189.42 96.42 L191.50 96.50 L193.58 96.58 L195.66 96.67 L197.74 96.77 L199.82 96.87 L201.90 96.98 L203.98 97.09 L206.06 97.22 L208.14 97.35 L210.23 97.48 L212.31 97.62 L214.39 97.77 L216.47 97.93 L218.55 98.09 L220.63 98.26 L222.71 98.43 L224.79 98.61 L226.87 98.80 L228.95 98.99 L231.03 99.19 L233.11 99.40 L235.19 99.61 L237.27 99.83 L239.35 100.06 L241.43 100.29 L243.51 100.53 L245.59 100.78 L247.67 101.03 L249.75 101.29 L251.83 101.55 L253.91 101.83 L255.99 102.10 L258.07 102.39 L260.15 102.68 L262.23 102.98 L264.31 103.28 L266.39 103.59 L268.47 103.90 L270.55 104.23 L272.63 104.56 L274.71 104.89 L276.79 105.23 L278.87 105.58 L280.95 105.94 L283.03 106.30 L285.11 106.66 L287.19 107.04 L289.27 107.42 L291.35 107.80 L293.43 108.19 L295.51 108.59 L297.59 109.00 L299.67 109.41 L301.75 109.83 L303.83 110.25 L305.91 110.68 L307.99 111.12 L310.07 111.56 L312.15 112.01 L314.24 112.46 L316.32 112.92 L318.40 113.39 L320.48 113.86 L322.56 114.34 L324.64 114.83 L326.72 115.32 L328.80 115.82 L330.88 116.32 L332.96 116.83 L335.04 117.35 L337.12 117.87 L339.20 118.40 L341.28 118.93 L343.36 119.47 L345.44 120.02 L347.52 120.57 L349.60 121.13 L351.68 121.69 L353.76 122.26 L355.84 122.84 L357.92 123.42 L360.00 124.01 L362.08 124.60 L364.16 125.20 L366.24 125.81 L368.32 126.42 L370.40 127.04 L372.48 127.66 L374.56 128.29 L376.64 128.93 L378.72 129.57 L380.80 130.21 L382.88 130.87 L384.96 131.52 L387.04 132.19 L389.12 132.86 L391.20 133.53 L393.28 134.21 L395.36 134.90 L397.44 135.59 L399.52 136.29 L401.60 136.99 L403.68 137.70 L405.76 138.42 L407.84 139.14 L409.92 139.86 L412.00 140.60 L414.08 141.33 L416.16 142.08 L418.25 142.82 L420.33 143.58 L422.41 144.34 L424.49 145.10 L426.57 145.87 L428.65 146.65 L430.73 147.43 L432.81 148.21 L434.89 149.00 L436.97 149.80 L439.05 150.60 L441.13 151.41 L443.21 152.22 L445.29 153.04 L447.37 153.86 L449.45 154.69 L451.53 155.52 L453.61 156.36 L455.69 157.20 L457.77 158.05 L459.85 158.91 L461.93 159.77 L464.01 160.63 L466.09 161.50 L468.17 162.37 L470.25 163.25 L472.33 164.14 L474.41 165.03 L476.49 165.92 L478.57 166.82 L480.65 167.73 L482.73 168.64 L484.81 169.55 L486.89 170.47 L488.97 171.39 L491.05 172.32 L493.13 173.26 L495.21 174.20 L497.29 175.14 L499.37 176.09 L501.45 177.04 L503.53 178.00 L505.61 178.96 L507.69 179.93 L509.77 180.91 L511.85 181.89 L513.93 182.87 L516.01 183.86 L518.09 184.85 L520.17 185.85 L522.26 186.85 L524.34 187.86 L526.42 188.87 L528.50 189.89 L530.58 190.91 L532.66 191.94 L534.74 192.97 L536.82 194.01 L538.90 195.06 L540.98 196.10 L543.06 197.16 L545.14 198.22 L547.22 199.28 L549.30 200.35 L551.38 201.42 L553.46 202.50 L555.54 203.58 L557.62 204.67 L559.70 205.77 L561.78 206.87 L563.86 207.97 L565.94 209.08 L568.02 210.20 L570.10 211.32 L572.18 212.44 L574.26 213.57 L576.34 214.71 L578.42 215.85 L580.50 216.99 L582.58 218.14 L584.66 219.30 L586.74 220.46 L588.82 221.62 L590.90 222.79 L592.98 223.97 L595.06 225.14 L597.14 226.33 L599.22 227.51 L601.30 228.70 L603.38 229.90 L605.46 231.09 L607.54 232.29 L609.62 233.50 L611.70 234.71 L613.78 235.92 L615.86 237.13 L617.94 238.35 L620.02 239.57 L622.10 240.79 L624.18 242.02 L626.27 243.24 L628.35 244.47 L630.43 245.70 L632.51 246.93 L634.59 248.17 L636.67 249.40 L638.75 250.64 L640.83 251.88 L642.91 253.12 L644.99 254.36 L647.07 255.60 L649.15 256.84 L651.23 258.08 L653.31 259.32 L655.39 260.56 L657.47 261.80 L659.55 263.05 L661.63 264.29 L663.71 265.53 L665.79 266.78 L667.87 268.02 L669.95 269.26 L672.03 270.51 L674.11 271.75 L676.19 273.00 L678.27 274.24 L680.35 275.49 L682.43 276.73 L684.51 277.98 L686.59 279.23 L688.67 280.48 L690.75 281.73 L692.83 282.98 L694.91 284.23 L696.99 285.48 L699.07 286.73 L701.15 287.99 L703.23 289.25 L705.31 290.51 L707.39 291.77 L709.47 293.03 L711.55 294.29 L713.63 295.56 L715.71 296.83 L717.79 298.10 L719.87 299.38 L721.95 300.65 L724.03 301.93 L726.11 303.21 L728.19 304.50 L730.28 305.78 L732.36 307.07 L734.44 308.37 L736.52 309.66 L738.60 310.96 L740.68 312.26 L742.76 313.57 L744.84 314.88 L746.92 316.19 L749.00 317.50 L751.08 318.82 L753.16 320.14 L755.24 321.46 L757.32 322.78 L759.40 324.11 L761.48 325.44 L763.56 326.77 L765.64 328.11 L767.72 329.45 L769.80 330.79 L771.88 332.14 L773.96 333.48 L776.04 334.83 L778.12 336.18 L780.20 337.54" fill="none" stroke="#00b300" stroke-width="4.00" stroke-dasharray="4.5 3.071" stroke-dashoffset="2.69"/>
<path d="M-49.80 94.07 L-47.72 93.23 L-45.64 92.41 L-43.56 91.60 L-41.48 90.79 L-39.40 89.98 L-37.32 89.19 L-35.24 88.40 L-33.16 87.62 L-31.08 86.85 L-29.00 86.09 L-26.92 85.33 L-24.84 84.58 L-22.76 83.84 L-20.68 83.10 L-18.60 82.38 L-16.52 81.66 L-14.44 80.95 L-12.36 80.24 L-10.28 79.55 L-8.20 78.86 L-6.12 78.18 L-4.04 77.50 L-1.96 76.84 L0.12 76.18 L2.21 75.53 L4.29 74.89 L6.37 74.26 L8.45 73.63 L10.53 73.01 L12.61 72.40 L14.69 71.80 L16.77 71.21 L18.85 70.62 L20.93 70.04 L23.01 69.47 L25.09 68.91 L27.17 68.36 L29.25 67.81 L31.33 67.27 L33.41 66.74 L35.49 66.22 L37.57 65.70 L39.65 65.20 L41.73 64.70 L43.81 64.21 L45.89 63.73 L47.97 63.26 L50.05 62.79 L52.13 62.33 L54.21 61.89 L56.29 61.45 L58.37 61.01 L60.45 60.59 L62.53 60.17 L64.61 59.76 L66.69 59.37 L68.77 58.97 L70.85 58.59 L72.93 58.22 L75.01 57.85 L77.09 57.49 L79.17 57.14 L81.25 56.80 L83.33 56.46 L85.41 56.14 L87.49 55.82 L89.57 55.51 L91.65 55.21 L93.73 54.92 L95.81 54.64 L97.89 54.36 L99.97 54.09 L102.05 53.83 L104.13 53.58 L106.22 53.34 L108.30 53.11 L110.38 52.88 L112.46 52.66 L114.54 52.45 L116.62 52.25 L118.70 52.06 L120.78 51.87 L122.86 51.70 L124.94 51.53 L127.02 51.37 L129.10 51.22 L131.18 51.08 L133.26 50.94 L135.34 50.81 L137.42 50.70 L139.50 50.59 L141.58 50.48 L143.66 50.39 L145.74 50.31 L147.82 50.23 L149.90 50.16 L151.98 50.10 L154.06 50.05 L156.14 50.01 L158.22 49.97 L160.30 49.94 L162.38 49.92 L164.46 49.91 L166.54 49.91 L168.62 49.92 L170.70 49.93 L172.78 49.96 L174.86 49.99 L176.94 50.03 L179.02 50.08 L181.10 50.13 L183.18 50.20 L185.26 50.27 L187.34 50.35 L189.42 50.44 L191.50 50.54 L193.58 50.64 L195.66 50.76 L197.74 50.88 L199.82 51.01 L201.90 51.15 L203.98 51.30 L206.06 51.45 L208.14 51.62 L210.23 51.79 L212.31 51.97 L214.39 52.16 L216.47 52.35 L218.55 52.56 L220.63 52.77 L222.71 53.00 L224.79 53.23 L226.87 53.47 L228.95 53.71 L231.03 53.97 L233.11 54.23 L235.19 54.50 L237.27 54.78 L239.35 55.07 L241.43 55.37 L243.51 55.67 L245.59 55.99 L247.67 56.31 L249.75 56.64 L251.83 56.98 L253.91 57.32 L255.99 57.68 L258.07 58.04 L260.15 58.41 L262.23 58.79 L264.31 59.18 L266.39 59.57 L268.47 59.98 L270.55 60.39 L272.63 60.81 L274.71 61.24 L276.79 61.67 L278.87 62.12 L280.95 62.57 L283.03 63.03 L285.11 63.50 L287.19 63.98 L289.27 64.47 L291.35 64.96 L293.43 65.46 L295.51 65.97 L297.59 66.49 L299.67 67.02 L301.75 67.55 L303.83 68.09 L305.91 68.64 L307.99 69.20 L310.07 69.77 L312.15 70.34 L314.24 70.92 L316.32 71.51 L318.40 72.11 L320.48 72.72 L322.56 73.33 L324.64 73.96 L326.72 74.59 L328.80 75.22 L330.88 75.87 L332.96 76.52 L335.04 77.18 L337.12 77.85 L339.20 78.53 L341.28 79.22 L343.36 79.91 L345.44 80.61 L347.52 81.32 L349.60 82.03 L351.68 82.75 L353.76 83.49 L355.84 84.22 L357.92 84.97 L360.00 85.72 L362.08 86.48 L364.16 87.25 L366.24 88.03 L368.32 88.81 L370.40 89.60 L372.48 90.40 L374.56 91.21 L376.64 92.02 L378.72 92.84 L380.80 93.67 L382.88 94.50 L384.96 95.34 L387.04 96.19 L389.12 97.05 L391.20 97.91 L393.28 98.78 L395.36 99.66 L397.44 100.54 L399.52 101.43 L401.60 102.33 L403.68 103.24 L405.76 104.15 L407.84 105.07 L409.92 105.99 L412.00 106.92 L414.08 107.86 L416.16 108.81 L418.25 109.76 L420.33 110.72 L422.41 111.68 L424.49 112.66 L426.57 113.63 L428.65 114.62 L430.73 115.61 L432.81 116.61 L434.89 117.61 L436.97 118.62 L439.05 119.64 L441.13 120.66 L443.21 121.69 L445.29 122.72 L447.37 123.76 L449.45 124.81 L451.53 125.86 L453.61 126.92 L455.69 127.98 L457.77 129.05 L459.85 130.13 L461.93 131.21 L464.01 132.30 L466.09 133.39 L468.17 134.49 L470.25 135.59 L472.33 136.70 L474.41 137.81 L476.49 138.93 L478.57 140.06 L480.65 141.19 L482.73 142.33 L484.81 143.47 L486.89 144.61 L488.97 145.76 L491.05 146.92 L493.13 148.08 L495.21 149.24 L497.29 150.41 L499.37 151.59 L501.45 152.77 L503.53 153.95 L505.61 155.14 L507.69 156.33 L509.77 157.53 L511.85 158.73 L513.93 159.93 L516.01 161.14 L518.09 162.35 L520.17 163.57 L522.26 164.79 L524.34 166.01 L526.42 167.24 L528.50 168.47 L530.58 169.70 L532.66 170.93 L534.74 172.17 L536.82 173.41 L538.90 174.65 L540.98 175.89 L543.06 177.14 L545.14 178.38 L547.22 179.63 L549.30 180.88 L551.38 182.14 L553.46 183.39 L555.54 184.64 L557.62 185.90 L559.70 187.16 L561.78 188.41 L563.86 189.67 L565.94 190.93 L568.02 192.20 L570.10 193.46 L572.18 194.72 L574.26 195.99 L576.34 197.26 L578.42 198.53 L580.50 199.80 L582.58 201.08 L584.66 202.36 L586.74 203.64 L588.82 204.93 L590.90 206.21 L592.98 207.51 L595.06 208.81 L597.14 210.11 L599.22 211.42 L601.30 212.73 L603.38 214.05 L605.46 215.37 L607.54 216.70 L609.62 218.03 L611.70 219.37 L613.78 220.72 L615.86 222.07 L617.94 223.43 L620.02 224.79 L622.10 226.16 L624.18 227.54 L626.27 228.92 L628.35 230.30 L630.43 231.68 L632.51 233.07 L634.59 234.46 L636.67 235.86 L638.75 237.25 L640.83 238.65 L642.91 240.04 L644.99 241.44 L647.07 242.83 L649.15 244.23 L651.23 245.62 L653.31 247.00 L655.39 248.39 L657.47 249.77 L659.55 251.15 L661.63 252.53 L663.71 253.91 L665.79 255.28 L667.87 256.66 L669.95 258.03 L672.03 259.40 L674.11 260.77 L676.19 262.15 L678.27 263.53 L680.35 264.91 L682.43 266.29 L684.51 267.67 L686.59 269.06 L688.67 270.45 L690.75 271.85 L692.83 273.24 L694.91 274.64 L696.99 276.04 L699.07 277.44 L701.15 278.85 L703.23 280.25 L705.31 281.65 L707.39 283.05 L709.47 284.45 L711.55 285.85 L713.63 287.24 L715.71 288.63 L717.79 290.02 L719.87 291.41 L721.95 292.80 L724.03 294.18 L726.11 295.57 L728.19 296.96 L730.28 298.34 L732.36 299.73 L734.44 301.11 L736.52 302.50 L738.60 303.89 L740.68 305.27 L742.76 306.65 L744.84 308.03 L746.92 309.40 L749.00 310.77 L751.08 312.12 L753.16 313.47 L755.24 314.80 L757.32 316.12 L759.40 317.43 L761.48 318.72 L763.56 320.00 L765.64 321.26 L767.72 322.51 L769.80 323.75 L771.88 324.98 L773.96 326.20 L776.04 327.41 L778.12 328.62 L780.20 329.82" fill="none" stroke="#ff0000" stroke-width="5.00"/>
<g stroke="#606060" stroke-width="1" fill="none">
<line x1="0" y1="217.5" x2="747" y2="217.5"/>
<line x1="166" y1="0" x2="166" y2="778"/>
</g>
<g stroke="#606060" stroke-width="0.90" fill="none">
<line x1="33.20" y1="217.5" x2="33.20" y2="212.20"/>
<line x1="66.40" y1="217.5" x2="66.40" y2="212.20"/>
<line x1="99.60" y1="217.5" x2="99.60" y2="212.20"/>
<line x1="132.80" y1="217.5" x2="132.80" y2="212.20"/>
<line x1="199.20" y1="217.5" x2="199.20" y2="212.20"/>
<line x1="232.40" y1="217.5" x2="232.40" y2="212.20"/>
<line x1="265.60" y1="217.5" x2="265.60" y2="212.20"/>
<line x1="298.80" y1="217.5" x2="298.80" y2="212.20"/>
<line x1="332.00" y1="217.5" x2="332.00" y2="208.50"/>
<line x1="365.20" y1="217.5" x2="365.20" y2="212.20"/>
<line x1="398.40" y1="217.5" x2="398.40" y2="212.20"/>
<line x1="431.60" y1="217.5" x2="431.60" y2="212.20"/>
<line x1="464.80" y1="217.5" x2="464.80" y2="212.20"/>
<line x1="498.00" y1="217.5" x2="498.00" y2="208.50"/>
<line x1="531.20" y1="217.5" x2="531.20" y2="212.20"/>
<line x1="564.40" y1="217.5" x2="564.40" y2="212.20"/>
<line x1="597.60" y1="217.5" x2="597.60" y2="212.20"/>
<line x1="630.80" y1="217.5" x2="630.80" y2="212.20"/>
<line x1="664.00" y1="217.5" x2="664.00" y2="208.50"/>
<line x1="697.20" y1="217.5" x2="697.20" y2="212.20"/>
<line x1="730.40" y1="217.5" x2="730.40" y2="212.20"/>
<line x1="763.60" y1="217.5" x2="763.60" y2="212.20"/>
<line x1="166" y1="796.12" x2="175.00" y2="796.12"/>
<line x1="166" y1="772.99" x2="171.50" y2="772.99"/>
<line x1="166" y1="749.86" x2="171.50" y2="749.86"/>
<line x1="166" y1="726.73" x2="171.50" y2="726.73"/>
<line x1="166" y1="703.59" x2="171.50" y2="703.59"/>
<line x1="166" y1="680.46" x2="175.00" y2="680.46"/>
<line x1="166" y1="657.33" x2="171.50" y2="657.33"/>
<line x1="166" y1="634.19" x2="171.50" y2="634.19"/>
<line x1="166" y1="611.06" x2="171.50" y2="611.06"/>
<line x1="166" y1="587.93" x2="171.50" y2="587.93"/>
<line x1="166" y1="564.80" x2="175.00" y2="564.80"/>
<line x1="166" y1="541.66" x2="171.50" y2="541.66"/>
<line x1="166" y1="518.53" x2="171.50" y2="518.53"/>
<line x1="166" y1="495.40" x2="171.50" y2="495.40"/>
<line x1="166" y1="472.26" x2="171.50" y2="472.26"/>
<line x1="166" y1="449.13" x2="175.00" y2="449.13"/>
<line x1="166" y1="426.00" x2="171.50" y2="426.00"/>
<line x1="166" y1="402.86" x2="171.50" y2="402.86"/>
<line x1="166" y1="379.73" x2="171.50" y2="379.73"/>
<line x1="166" y1="356.60" x2="171.50" y2="356.60"/>
<line x1="166" y1="333.47" x2="175.00" y2="333.47"/>
<line x1="166" y1="310.33" x2="171.50" y2="310.33"/>
<line x1="166" y1="287.20" x2="171.50" y2="287.20"/>
<line x1="166" y1="264.07" x2="171.50" y2="264.07"/>
<line x1="166" y1="240.93" x2="171.50" y2="240.93"/>
<line x1="166" y1="194.67" x2="171.50" y2="194.67"/>
<line x1="166" y1="171.53" x2="171.50" y2="171.53"/>
<line x1="166" y1="148.40" x2="171.50" y2="148.40"/>
<line x1="166" y1="125.27" x2="171.50" y2="125.27"/>
<line x1="166" y1="102.13" x2="175.00" y2="102.13"/>
<line x1="166" y1="79.00" x2="171.50" y2="79.00"/>
<line x1="166" y1="55.87" x2="171.50" y2="55.87"/>
<line x1="166" y1="32.74" x2="171.50" y2="32.74"/>
<line x1="166" y1="9.60" x2="171.50" y2="9.60"/>
<line x1="166" y1="-13.53" x2="175.00" y2="-13.53"/>
</g>
<line x1="221.8" y1="307.4" x2="350.7" y2="307.4" stroke="#ff0000" stroke-width="5.00"/>
<line x1="222.1" y1="351.4" x2="350.7" y2="351.4" stroke="#0000ff" stroke-width="3.80" stroke-dasharray="14.5 7.18"/>
<line x1="222.1" y1="394.9" x2="350.7" y2="394.9" stroke="#00b300" stroke-width="4.00" stroke-dasharray="4.5 3.071"/>
<line x1="437.3" y1="36.9" x2="548.4" y2="36.9" stroke="#5a5aff" stroke-width="2.35" stroke-dasharray="13.3 19.2"/>
<line x1="437.3" y1="79.5" x2="560.5" y2="79.5" stroke="#5cc05c" stroke-width="2.60" stroke-dasharray="3.7 8.22"/>
<text x="584.7" y="43.9" font-size="25.0" textLength="33.6" lengthAdjust="spacingAndGlyphs" text-anchor="start">AU</text><text x="627.5" y="42.4" font-size="24.5" class="m" text-anchor="start">(</text><text x="638.7" y="43.9" font-size="24.5" class="mi" text-anchor="start">k</text><text x="658.3" y="43.9" font-size="24.5" class="m" textLength="20.5" lengthAdjust="spacingAndGlyphs" text-anchor="start">=</text><text x="685.2" y="43.9" font-size="24.5" class="m" textLength="14.5" lengthAdjust="spacingAndGlyphs" text-anchor="start">3</text><text x="701.5" y="42.4" font-size="24.5" class="m" text-anchor="start">)</text><text x="584.2" y="85.8" font-size="25.0" textLength="30.5" lengthAdjust="spacingAndGlyphs" text-anchor="start">BP</text><text x="368.6" y="314.6" font-size="25.0" textLength="20.6" lengthAdjust="spacingAndGlyphs" text-anchor="start">SI</text><text x="396.4" y="313.1" font-size="24.5" class="m" text-anchor="start">(</text><text x="407.6" y="314.6" font-size="24.5" class="mi" text-anchor="start">k</text><text x="427.5" y="314.6" font-size="24.5" class="m" textLength="20.5" lengthAdjust="spacingAndGlyphs" text-anchor="start">=</text><text x="454.6" y="314.6" font-size="24.5" class="m" textLength="14.5" lengthAdjust="spacingAndGlyphs" text-anchor="start">3</text><text x="470.4" y="313.1" font-size="24.5" class="m" text-anchor="start">)</text><text x="368.7" y="357.7" font-size="25.0" textLength="51.0" lengthAdjust="spacingAndGlyphs" text-anchor="start">2AU</text><text x="427.9" y="356.2" font-size="24.5" class="m" text-anchor="start">(</text><text x="438.4" y="357.7" font-size="24.5" class="mi" text-anchor="start">k</text><text x="458.7" y="357.7" font-size="24.5" class="m" textLength="20.5" lengthAdjust="spacingAndGlyphs" text-anchor="start">=</text><text x="485.9" y="357.7" font-size="24.5" class="m" textLength="14.5" lengthAdjust="spacingAndGlyphs" text-anchor="start">3</text><text x="501.9" y="356.2" font-size="24.5" class="m" text-anchor="start">)</text><text x="368.7" y="401.3" font-size="25.0" textLength="45.7" lengthAdjust="spacingAndGlyphs" text-anchor="start">2BP</text><text x="121.8" y="340.3" font-size="20.5" textLength="37.2" lengthAdjust="spacingAndGlyphs" text-anchor="start">- 0.5</text><text x="121.8" y="571.6" font-size="20.5" textLength="37.2" lengthAdjust="spacingAndGlyphs" text-anchor="start">- 1.5</text><text x="121.8" y="687.3" font-size="20.5" textLength="37.2" lengthAdjust="spacingAndGlyphs" text-anchor="start">- 2.0</text><path d="M330.9 230.2 L333.4 230.2 L333.4 244.0 L330.9 244.0 L330.9 232.2 L328.2 233.6 L327.9 232.5 Z" fill="#000"/><text x="663.0" y="244.2" font-size="20.5" text-anchor="middle">3</text><text x="4.9" y="510.5" font-size="32.0" class="mi" textLength="19.5" lengthAdjust="spacingAndGlyphs" text-anchor="start">∂</text><text x="24.9" y="510.5" font-size="32.0" class="mi" text-anchor="start">H</text>
</svg>
</body></html>
